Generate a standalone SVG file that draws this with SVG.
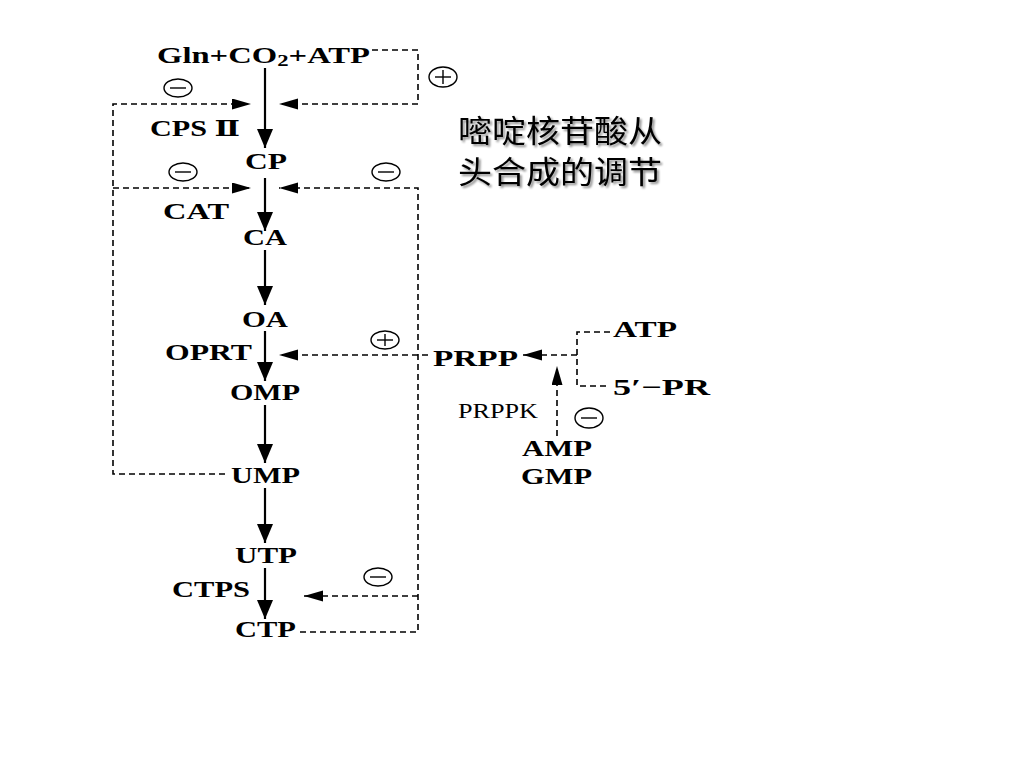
<svg xmlns="http://www.w3.org/2000/svg" width="1024" height="768" viewBox="0 0 1024 768">
<defs>
<marker id="ah" markerUnits="userSpaceOnUse" markerWidth="20" markerHeight="18" refX="19" refY="8" orient="auto">
<path d="M0,0 L19,8 L0,16 Z" fill="#000"/>
</marker>
<marker id="ad" markerUnits="userSpaceOnUse" markerWidth="20" markerHeight="12" refX="19" refY="5.5" orient="auto">
<path d="M0,0 L19,5.5 L0,11 Z" fill="#000"/>
</marker>
<filter id="shadow" x="-10%" y="-10%" width="130%" height="140%">
<feGaussianBlur in="SourceAlpha" stdDeviation="1"/>
<feOffset dx="2" dy="2" result="b"/>
<feComponentTransfer><feFuncA type="linear" slope="0.45"/></feComponentTransfer>
<feMerge><feMergeNode/><feMergeNode in="SourceGraphic"/></feMerge>
</filter>
<style>
.t{font-family:"Liberation Serif","Times New Roman",serif;font-weight:bold;font-size:23px;fill:#000}
.n{font-family:"Liberation Serif","Times New Roman",serif;font-weight:normal;font-size:20px;fill:#000}
.main{stroke:#000;stroke-width:2.2;fill:none}
.dash{stroke:#000;stroke-width:1.6;fill:none;stroke-dasharray:6 4}
.sg{fill:none;stroke:#000;stroke-width:1.4}
.cn{font-family:"Noto Sans CJK SC",sans-serif;font-size:31px;fill:#000}
</style>
</defs>
<rect width="1024" height="768" fill="#fff"/>

<g id="connectors">
<path class="main" d="M265,68 L265,148" marker-end="url(#ah)"/>
<path class="main" d="M265,178 L265,231" marker-end="url(#ah)"/>
<path class="main" d="M265,250 L265,305" marker-end="url(#ah)"/>
<path class="main" d="M265,331 L265,381" marker-end="url(#ah)"/>
<path class="main" d="M265,405 L265,463" marker-end="url(#ah)"/>
<path class="main" d="M265,488 L265,543" marker-end="url(#ah)"/>
<path class="main" d="M265,568 L265,619" marker-end="url(#ah)"/>

<path class="dash" d="M225,474 L113,474 L113,104 L251,104" marker-end="url(#ad)"/>
<path class="dash" d="M113,188 L251,188" marker-end="url(#ad)"/>
<path class="dash" d="M372,50 L418,50 L418,104 L279,104" marker-end="url(#ad)"/>
<path class="dash" d="M300,632 L418,632 L418,188 L279,188" marker-end="url(#ad)"/>
<path class="dash" d="M418,596 L304,596" marker-end="url(#ad)"/>
<path class="dash" d="M428,355 L279,355" marker-end="url(#ad)"/>
<path class="dash" d="M577,355 L523,355" marker-end="url(#ad)"/>
<path class="dash" d="M610,332 L577,332 L577,386 L610,386"/>
<path class="dash" d="M557,436 L557,366" marker-end="url(#ad)"/>
</g>

<g id="signs">
<g id="s1"><ellipse class="sg" cx="178" cy="88" rx="14" ry="9"/><line class="sg" x1="170" y1="88" x2="186" y2="88"/></g>
<g id="s2"><ellipse class="sg" cx="443" cy="77" rx="14" ry="10"/><line class="sg" x1="435" y1="77" x2="451" y2="77"/><line class="sg" x1="443" y1="70" x2="443" y2="84"/></g>
<g id="s3"><ellipse class="sg" cx="183" cy="172" rx="14" ry="9"/><line class="sg" x1="175" y1="172" x2="191" y2="172"/></g>
<g id="s4"><ellipse class="sg" cx="386" cy="172" rx="14" ry="9"/><line class="sg" x1="378" y1="172" x2="394" y2="172"/></g>
<g id="s5"><ellipse class="sg" cx="385" cy="340" rx="14" ry="9"/><line class="sg" x1="377" y1="340" x2="393" y2="340"/><line class="sg" x1="385" y1="334" x2="385" y2="346"/></g>
<g id="s6"><ellipse class="sg" cx="378" cy="577" rx="14" ry="9"/><line class="sg" x1="370" y1="577" x2="386" y2="577"/></g>
<g id="s7"><ellipse class="sg" cx="589" cy="418" rx="14" ry="10"/><line class="sg" x1="581" y1="418" x2="597" y2="418"/></g>
</g>

<g id="n-gln"><text class="t" x="157" y="63" textLength="213" lengthAdjust="spacingAndGlyphs">Gln+CO<tspan font-size="16" dy="3">2</tspan><tspan dy="-3">+ATP</tspan></text></g>
<g id="n-cps"><text class="t" x="150" y="136" textLength="90" lengthAdjust="spacingAndGlyphs">CPS <tspan style="font-family:'DejaVu Serif','Liberation Serif',serif">Ⅱ</tspan></text></g>
<g id="n-cp"><text class="t" x="245" y="169" textLength="42" lengthAdjust="spacingAndGlyphs">CP</text></g>
<g id="n-cat"><text class="t" x="163" y="219" textLength="66" lengthAdjust="spacingAndGlyphs">CAT</text></g>
<g id="n-ca"><text class="t" x="243" y="245" textLength="44" lengthAdjust="spacingAndGlyphs">CA</text></g>
<g id="n-oa"><text class="t" x="242" y="327" textLength="46" lengthAdjust="spacingAndGlyphs">OA</text></g>
<g id="n-oprt"><text class="t" x="165" y="360" textLength="87" lengthAdjust="spacingAndGlyphs">OPRT</text></g>
<g id="n-omp"><text class="t" x="230" y="400" textLength="70" lengthAdjust="spacingAndGlyphs">OMP</text></g>
<g id="n-ump"><text class="t" x="231" y="483" textLength="69" lengthAdjust="spacingAndGlyphs">UMP</text></g>
<g id="n-utp"><text class="t" x="235" y="563" textLength="62" lengthAdjust="spacingAndGlyphs">UTP</text></g>
<g id="n-ctps"><text class="t" x="172" y="597" textLength="78" lengthAdjust="spacingAndGlyphs">CTPS</text></g>
<g id="n-ctp"><text class="t" x="235" y="637" textLength="61" lengthAdjust="spacingAndGlyphs">CTP</text></g>
<g id="n-prpp"><text class="t" x="433" y="366" textLength="85" lengthAdjust="spacingAndGlyphs">PRPP</text></g>
<g id="n-atp"><text class="t" x="613" y="337" textLength="64" lengthAdjust="spacingAndGlyphs">ATP</text></g>
<g id="n-5pr"><text class="t" x="613" y="395" textLength="97" lengthAdjust="spacingAndGlyphs">5′−PR</text></g>
<g id="n-prppk"><text class="n" x="458" y="418" textLength="80" lengthAdjust="spacingAndGlyphs">PRPPK</text></g>
<g id="n-amp"><text class="t" x="522" y="456" textLength="70" lengthAdjust="spacingAndGlyphs">AMP</text></g>
<g id="n-gmp"><text class="t" x="521" y="484" textLength="71" lengthAdjust="spacingAndGlyphs">GMP</text></g>

<g id="title" filter="url(#shadow)">
<text class="cn" x="458" y="142" textLength="204" lengthAdjust="spacingAndGlyphs">嘧啶核苷酸从</text>
<text class="cn" x="458" y="183" textLength="204" lengthAdjust="spacingAndGlyphs">头合成的调节</text>
</g>
</svg>
